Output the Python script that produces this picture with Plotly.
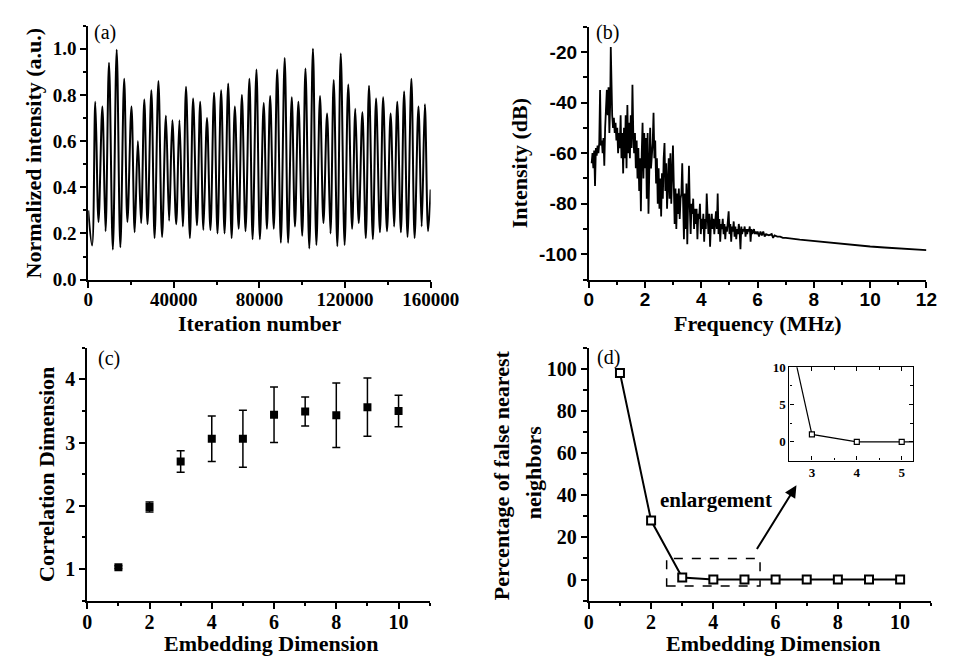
import plotly.graph_objects as go

W, H = 959, 663

# ---------------- data ----------------
# (a) time series: successive troughs / peaks
iter_x = [0, 1800, 3300, 4800, 6600, 8100, 9700, 11500, 13300, 15000, 16800, 18300, 20200, 21700,
          23200, 24700, 26200, 27700, 29500, 31000, 32800, 34500, 36300, 37800, 39300, 41100, 42600,
          44200, 45700, 47500, 49000, 50800, 52300, 53800, 55500, 57100, 58800, 60400, 62100, 63700,
          65400, 67000, 68500, 70300, 71800, 73500, 75300, 76800, 78600, 80200, 82000, 83500, 85000,
          86700, 88300, 90000, 91800, 93400, 95100, 96600, 98200, 100000, 101500, 103300, 105000,
          106600, 108300, 109900, 111600, 113200, 114700, 116400, 118000, 119800, 121500, 123300,
          124800, 126400, 128100, 129700, 131200, 133000, 134500, 136300, 137800, 139600, 141300,
          142900, 144400, 146100, 147600, 149200, 151000, 152500, 154300, 155800, 157300, 158800, 160000]
intensity = [0.30, 0.148, 0.77, 0.25, 0.75, 0.21, 0.94, 0.13, 0.996, 0.14, 0.87, 0.25, 0.75, 0.205,
             0.60, 0.245, 0.78, 0.24, 0.82, 0.18, 0.86, 0.185, 0.71, 0.255, 0.69, 0.24, 0.69,
             0.23, 0.835, 0.18, 0.785, 0.235, 0.77, 0.215, 0.70, 0.215, 0.81, 0.20, 0.82, 0.20,
             0.85, 0.18, 0.75, 0.22, 0.80, 0.21, 0.87, 0.175, 0.91, 0.175, 0.765, 0.22, 0.795,
             0.22, 0.91, 0.16, 0.96, 0.16, 0.79, 0.23, 0.77, 0.19, 0.915, 0.135, 1.0,
             0.15, 0.795, 0.245, 0.72, 0.20, 0.865, 0.145, 0.98, 0.15, 0.845, 0.22,
             0.74, 0.245, 0.725, 0.18, 0.84, 0.175, 0.785, 0.205, 0.79, 0.21, 0.72,
             0.23, 0.77, 0.205, 0.815, 0.185, 0.87, 0.18, 0.75, 0.23, 0.76, 0.21, 0.39]

# (b) spectrum
spec_freq = [0.10, 0.13, 0.16, 0.19, 0.22, 0.25, 0.28, 0.31, 0.34, 0.37, 0.40, 0.43, 0.46, 0.49,
             0.52, 0.55, 0.58, 0.61, 0.64, 0.67, 0.70, 0.73, 0.76, 0.78, 0.80, 0.83, 0.86, 0.89,
             0.92, 0.95, 0.98, 1.01, 1.04, 1.07, 1.10, 1.13, 1.16, 1.19, 1.22, 1.25, 1.28, 1.31,
             1.34, 1.37, 1.40, 1.43, 1.46, 1.49, 1.52, 1.55, 1.58, 1.61, 1.64, 1.67, 1.70, 1.73,
             1.76, 1.79, 1.82, 1.85, 1.88, 1.91, 1.94, 1.97, 2.00, 2.03, 2.06, 2.09, 2.12, 2.15,
             2.18, 2.21, 2.24, 2.27, 2.30, 2.33, 2.36, 2.39, 2.42, 2.45, 2.48, 2.51, 2.54, 2.57,
             2.60, 2.63, 2.66, 2.69, 2.72, 2.75, 2.78, 2.81, 2.84, 2.87, 2.90, 2.93, 2.96, 2.99,
             3.02, 3.05, 3.08, 3.11, 3.14, 3.17, 3.20, 3.23, 3.26, 3.29, 3.32, 3.35, 3.38, 3.41,
             3.44, 3.47, 3.50, 3.53, 3.56, 3.59, 3.62, 3.65, 3.68, 3.71, 3.74, 3.77, 3.80, 3.83,
             3.86, 3.89, 3.92, 3.95, 3.98, 4.01, 4.04, 4.07, 4.10, 4.13, 4.16, 4.19, 4.22, 4.25,
             4.28, 4.31, 4.34, 4.37, 4.40, 4.43, 4.46, 4.49, 4.52, 4.55, 4.58, 4.61, 4.64, 4.67,
             4.70, 4.73, 4.76, 4.79, 4.82, 4.85, 4.88, 4.91, 4.94, 4.97, 5.00, 5.03, 5.06, 5.09,
             5.12, 5.15, 5.18, 5.21, 5.24, 5.27, 5.30, 5.33, 5.36, 5.39, 5.42, 5.45, 5.48, 5.51,
             5.54, 5.57, 5.60, 5.63, 5.66, 5.69, 5.72, 5.75, 5.78, 5.81, 5.84, 5.87, 5.90, 5.93,
             5.96, 6.00, 6.05, 6.10, 6.15, 6.20, 6.25, 6.30, 6.40, 6.50, 6.55, 6.60, 6.70, 6.80,
             6.90, 7.00, 7.50, 8.00, 8.50, 9.00, 9.50, 10.00, 10.50, 11.00, 11.50, 12.00]
spec_db = [-64, -60, -66, -59, -73, -58, -61, -57, -60, -56, -35, -57, -55, -60,
           -54, -65, -50, -44, -35, -45, -34, -52, -40, -18, -33, -45, -50, -46,
           -52, -48, -55, -50, -60, -52, -58, -45, -62, -52, -68, -50, -62, -45,
           -66, -41, -60, -48, -62, -45, -58, -33, -52, -60, -52, -66, -55, -70,
           -58, -75, -62, -83, -60, -48, -70, -52, -66, -54, -78, -52, -84, -60,
           -50, -66, -62, -56, -44, -62, -55, -72, -62, -80, -66, -82, -70, -85,
           -68, -78, -62, -56, -75, -64, -82, -68, -62, -78, -60, -80, -70, -57,
           -72, -88, -74, -90, -76, -84, -74, -86, -78, -76, -64, -80, -94, -76,
           -90, -72, -96, -78, -65, -82, -92, -80, -84, -78, -90, -82, -88, -82,
           -94, -84, -86, -80, -92, -86, -90, -84, -95, -86, -90, -76, -88, -92,
           -84, -97, -88, -84, -90, -86, -92, -88, -83, -90, -76, -92, -86, -95,
           -88, -90, -86, -92, -88, -94, -89, -91, -87, -83, -92, -88, -95, -89,
           -91, -87, -93, -89, -94, -90, -92, -88, -91, -98, -89, -92, -90, -91,
           -89, -93, -90, -92, -90, -91, -89, -95, -90, -92, -91, -90, -92, -91,
           -92, -91, -93, -91, -92.5, -91, -93, -92, -92.5, -92, -93.5, -92.5, -93, -93,
           -93.5, -93.5, -94.2, -94.8, -95.4, -95.9, -96.4, -96.9, -97.3, -97.7, -98.0, -98.3]

# (c) correlation dimension vs embedding dimension
emb_dim = [1, 2, 3, 4, 5, 6, 7, 8, 9, 10]
corr_dim = [1.03, 1.98, 2.70, 3.06, 3.06, 3.44, 3.49, 3.43, 3.56, 3.50]
corr_err = [0.02, 0.08, 0.17, 0.36, 0.45, 0.44, 0.23, 0.51, 0.46, 0.25]

# (d) false nearest neighbours
fnn_pct = [98, 28, 1, 0, 0, 0, 0, 0, 0, 0]

# tick labels
ticks_a_x = ["0", "40000", "80000", "120000", "160000"]
ticks_a_y = ["0.0", "0.2", "0.4", "0.6", "0.8", "1.0"]
ticks_b_x = ["0", "2", "4", "6", "8", "10", "12"]
ticks_b_y = ["-100", "-80", "-60", "-40", "-20"]
ticks_c_x = ["0", "2", "4", "6", "8", "10"]
ticks_c_y = ["1", "2", "3", "4"]
ticks_d_y = ["0", "20", "40", "60", "80", "100"]
ticks_in_x = ["3", "4", "5"]
ticks_in_y = ["0", "5", "10"]


# ---------------- helpers ----------------
def fx(p):
    return p / W


def fy(p):
    return 1 - p / H


SERIF = "Liberation Serif"
SANS = "Liberation Sans"


def axis_style(domain, anchor, rng, labels, minor_dtick, tickfont_family=SERIF, size=19,
               lw=2, ticklen=6, standoff=0):
    vals = [float(t) for t in labels]
    d = dict(domain=domain, anchor=anchor, range=rng, showline=True, linecolor="black", linewidth=lw,
             ticks="outside", ticklen=ticklen, tickwidth=lw, tickcolor="black",
             tickmode="array", tickvals=vals, ticktext=["<b>%s</b>" % t for t in labels],
             showgrid=False, zeroline=False, ticklabelstandoff=standoff,
             minor=dict(dtick=minor_dtick, tick0=0, ticks="outside", ticklen=ticklen * 0.6,
                        tickwidth=lw * 0.75, tickcolor="black", showgrid=False),
             tickfont=dict(family=tickfont_family, size=size, color="black"))
    return d


fig = go.Figure()

fig.add_trace(go.Scatter(x=iter_x, y=intensity, mode="lines",
                         line=dict(color="black", width=2, shape="spline", smoothing=1),
                         xaxis="x", yaxis="y"))
fig.add_trace(go.Scatter(x=spec_freq, y=spec_db, mode="lines",
                         line=dict(color="black", width=1.8),
                         xaxis="x2", yaxis="y2"))
fig.add_trace(go.Scatter(x=emb_dim, y=corr_dim, mode="markers",
                         error_y=dict(type="data", array=corr_err, color="black", thickness=1.5, width=4),
                         marker=dict(symbol="square", size=8, color="black"),
                         xaxis="x3", yaxis="y3"))
fig.add_trace(go.Scatter(x=emb_dim, y=fnn_pct, mode="lines+markers",
                         line=dict(color="black", width=2),
                         marker=dict(symbol="square", size=8, color="white", line=dict(color="black", width=2)),
                         xaxis="x4", yaxis="y4"))
fig.add_trace(go.Scatter(x=emb_dim, y=fnn_pct, mode="lines+markers",
                         line=dict(color="black", width=1.2),
                         marker=dict(symbol="square", size=5, color="white", line=dict(color="black", width=1.2)),
                         xaxis="x5", yaxis="y5"))

layout = dict(
    width=W, height=H, autosize=False, showlegend=False,
    margin=dict(l=0, r=0, t=0, b=0),
    paper_bgcolor="white", plot_bgcolor="white",
    xaxis=axis_style([fx(78), fx(433)], "y", [0, 160000], ticks_a_x, 20000, standoff=-4),
    yaxis=axis_style([fy(272), fy(11)], "x", [0, 1.1], ticks_a_y, 0.1),
    xaxis2=axis_style([fx(597), fx(947)], "y2", [0, 12], ticks_b_x, 1, tickfont_family=SANS, standoff=-4),
    yaxis2=axis_style([fy(272), fy(12)], "x2", [-110, -10], ticks_b_y, 10, tickfont_family=SANS),
    xaxis3=axis_style([fx(77), fx(432)], "y3", [0, 11], ticks_c_x, 1, size=20, standoff=-4),
    yaxis3=axis_style([fy(602), fy(342)], "x3", [0.5, 4.5], ticks_c_y, 0.5, size=20),
    xaxis4=axis_style([fx(597), fx(952)], "y4", [0, 11], ticks_c_x, 1, size=20, standoff=-4),
    yaxis4=axis_style([fy(602), fy(342)], "x4", [-10, 110], ticks_d_y, 10, size=20),
)
x5 = axis_style([fx(805), fx(933)], "y5", [2.5, 5.25], ticks_in_x, 0.5, size=13, lw=1.2, ticklen=4)
y5 = axis_style([fy(458), fy(362)], "x5", [-2.5, 10], ticks_in_y, 2.5, size=13, lw=1.2, ticklen=4)
for a in (x5, y5):
    a["mirror"] = "ticks"
    a["ticks"] = "inside"
    a["minor"]["ticks"] = "inside"
layout["xaxis5"] = x5
layout["yaxis5"] = y5
fig.update_layout(**layout)

ann = []


def text_ann(t, xp, yp, size=22, angle=0, bold=True, xanchor="center", family=SERIF):
    ann.append(dict(text=("<b>%s</b>" % t) if bold else t, x=fx(xp), y=fy(yp), xref="paper", yref="paper",
                    showarrow=False, textangle=angle, xanchor=xanchor, yanchor="middle",
                    font=dict(family=family, size=size, color="black")))


# panel labels
text_ann("(a)", 82, 18, size=20, bold=False, xanchor="left")
text_ann("(b)", 602, 18, size=20, bold=False, xanchor="left")
text_ann("(c)", 86, 353, size=20, bold=False, xanchor="left")
text_ann("(d)", 603, 352, size=20, bold=False, xanchor="left")

# axis titles
text_ann("Iteration number", 256, 317)
text_ann("Normalized intensity (a.u.)", 21, 142, angle=-90)
text_ann("Frequency (MHz)", 772, 317)
text_ann("Intensity (dB)", 526, 152, angle=-90)
text_ann("Embedding Dimension", 268, 646)
text_ann("Correlation Dimension", 34, 472, angle=-90)
text_ann("Embedding Dimension", 788, 646)
text_ann("Percentage of false nearest", 506, 473, angle=-90)
text_ann("neighbors", 539, 470, angle=-90)

# enlargement text and arrow in panel (d)
ann.append(dict(text="<b>enlargement</b>", x=4.07, y=37.8, xref="x4", yref="y4", showarrow=False,
                font=dict(family=SERIF, size=21, color="black")))
ann.append(dict(text="", x=6.67, y=44.7, ax=5.37, ay=13.8, xref="x4", yref="y4", axref="x4", ayref="y4",
                showarrow=True, arrowhead=2, arrowsize=1.2, arrowwidth=2, arrowcolor="black"))
fig.update_layout(annotations=ann)

fig.add_shape(type="rect", x0=2.5, x1=5.5, y0=-3, y1=10, xref="x4", yref="y4",
              line=dict(color="black", width=1.5, dash="dash"))

fig.write_html("out.html")
